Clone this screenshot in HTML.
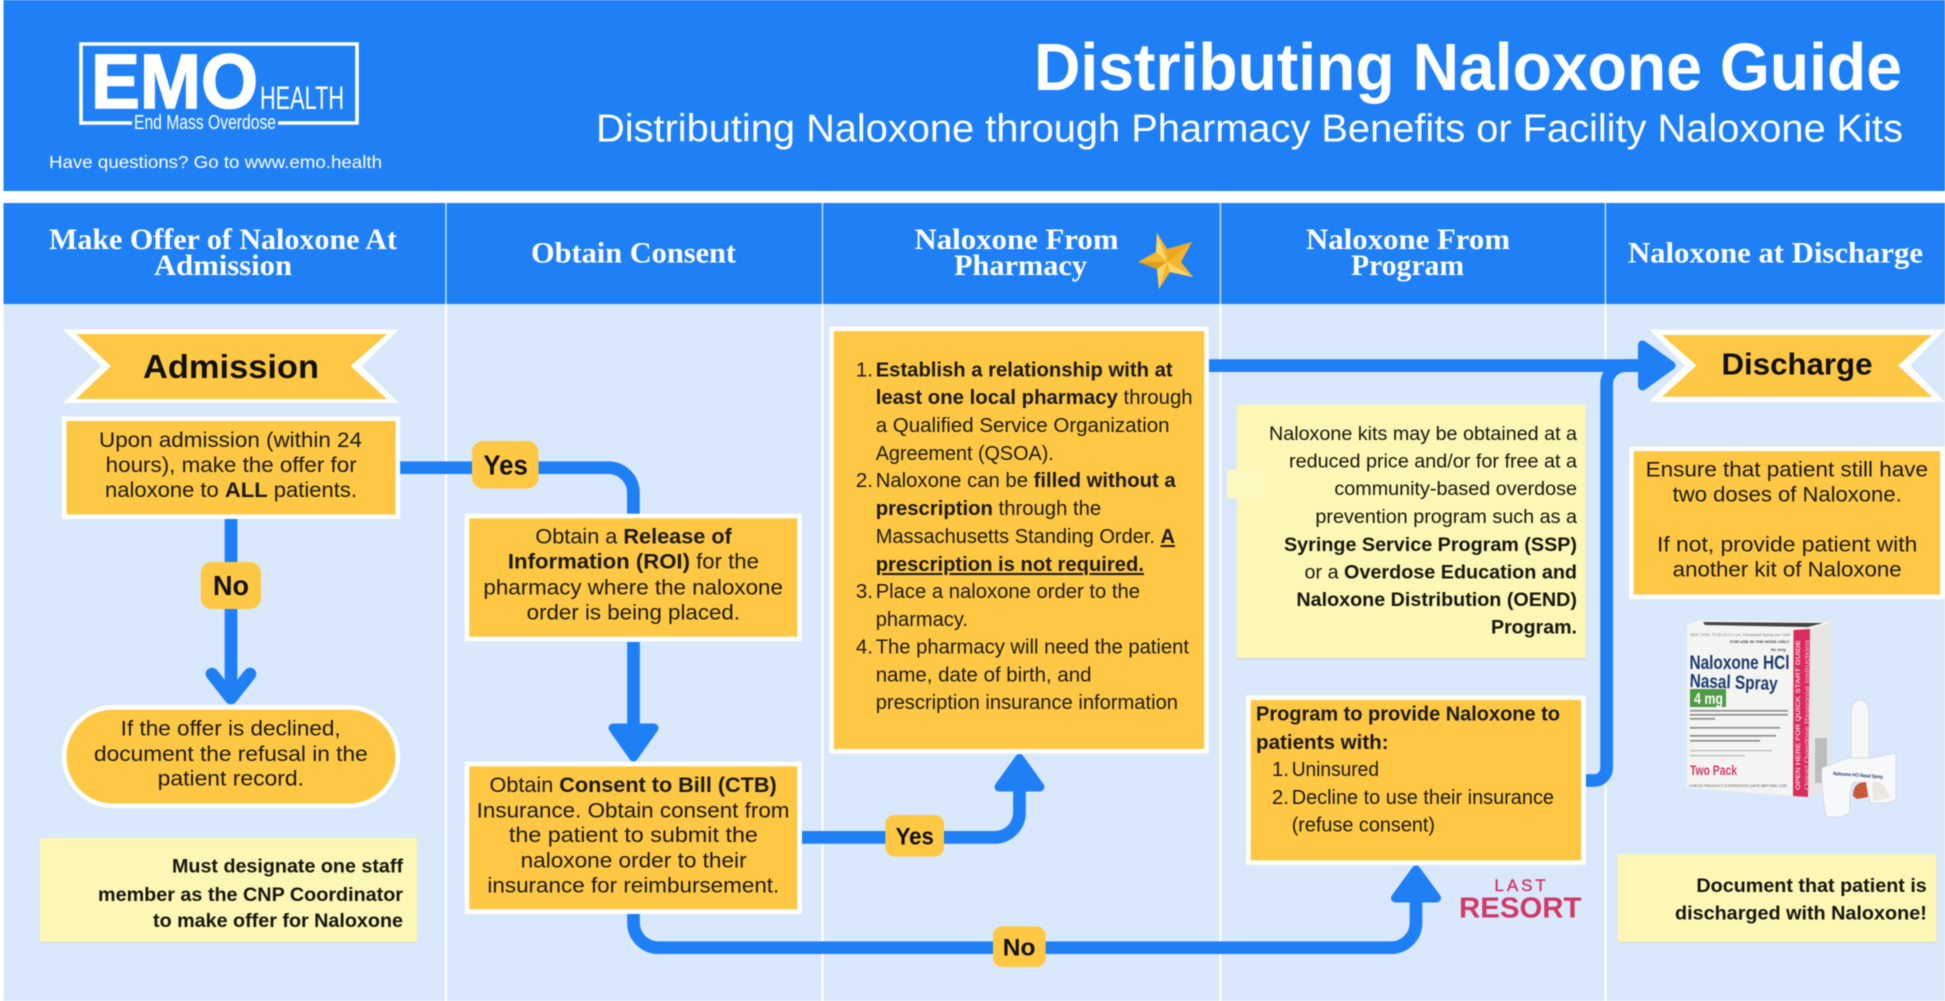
<!DOCTYPE html>
<html><head><meta charset="utf-8"><title>Distributing Naloxone Guide</title>
<style>
html,body{margin:0;padding:0;background:#fff;width:1945px;height:1001px;overflow:hidden}
svg{display:block;filter:blur(0.4px)}
text{font-family:"Liberation Sans",sans-serif}
.w{fill:#fff}
.s{font-family:"Liberation Serif",serif;font-weight:700;font-size:29.5px;fill:#fff}
.b{font-size:21px;fill:#1c1a14}
.p{font-size:20.5px;fill:#1c1a14}
.n{font-size:19px;fill:#16160f}
.lab{font-weight:700;fill:#111}
</style></head><body>
<svg width="1945" height="1001" viewBox="0 0 1945 1001" xmlns="http://www.w3.org/2000/svg">
<rect width="1945" height="1001" fill="#fff"/>
<rect x="3.5" y="0" width="1941.5" height="191" fill="#1f80f6"/>
<rect x="3.5" y="203" width="1941.5" height="101" fill="#1f80f6"/>
<rect x="3.5" y="304" width="1941.5" height="697" fill="#dae8fb"/>
<g fill="#fff"><rect x="445" y="304" width="2" height="697"/><rect x="821.5" y="304" width="2" height="697"/><rect x="1219.5" y="304" width="2" height="697"/><rect x="1604.5" y="304" width="2" height="697"/></g>
<g fill="#dbe9fc"><rect x="445.3" y="203" width="1.3" height="101"/><rect x="821.8" y="203" width="1.3" height="101"/><rect x="1219.8" y="203" width="1.3" height="101"/><rect x="1604.8" y="203" width="1.3" height="101"/></g>

<!-- logo -->
<path d="M132 123H81V44H357V123H278" fill="none" stroke="#fff" stroke-width="3.6"/>
<text x="91" y="108" class="w" font-weight="700" font-size="77" stroke="#fff" stroke-width="1.6" textLength="167" lengthAdjust="spacingAndGlyphs">EMO</text>
<text x="260" y="109" class="w" font-size="32" textLength="84" lengthAdjust="spacingAndGlyphs">HEALTH</text>
<text x="134" y="129" class="w" font-size="20" textLength="142" lengthAdjust="spacingAndGlyphs">End Mass Overdose</text>
<text x="49" y="168" class="w" font-size="17.5" textLength="333" lengthAdjust="spacingAndGlyphs">Have questions? Go to www.emo.health</text>

<!-- title -->
<text x="1034" y="90" class="w" font-weight="700" font-size="67" textLength="868" lengthAdjust="spacingAndGlyphs">Distributing Naloxone Guide</text>
<text x="596" y="141.5" class="w" font-size="39" textLength="1307" lengthAdjust="spacingAndGlyphs">Distributing Naloxone through Pharmacy Benefits or Facility Naloxone Kits</text>

<!-- column headers -->
<text x="49" y="249" class="s" textLength="348" lengthAdjust="spacingAndGlyphs">Make Offer of Naloxone At</text>
<text x="154" y="275" class="s" textLength="138" lengthAdjust="spacingAndGlyphs">Admission</text>
<text x="531" y="262.5" class="s" textLength="205" lengthAdjust="spacingAndGlyphs">Obtain Consent</text>
<text x="914.5" y="249" class="s" textLength="204" lengthAdjust="spacingAndGlyphs">Naloxone From</text>
<text x="954" y="275" class="s" textLength="133" lengthAdjust="spacingAndGlyphs">Pharmacy</text>
<text x="1306" y="249" class="s" textLength="204" lengthAdjust="spacingAndGlyphs">Naloxone From</text>
<text x="1351" y="275" class="s" textLength="113" lengthAdjust="spacingAndGlyphs">Program</text>
<text x="1628" y="262.5" class="s" textLength="295" lengthAdjust="spacingAndGlyphs">Naloxone at Discharge</text>

<!-- star -->
<polygon points="1157,233 1167,249 1192,242 1181,262 1193,277 1170,272 1159,289 1157,269 1138,262 1156,252" fill="#f6b52e"/>
<polygon points="1157,233 1167,262 1156,252" fill="#fcd869"/>
<polygon points="1167,249 1192,242 1167,262" fill="#eda923"/>
<polygon points="1138,262 1167,262 1157,269" fill="#e09a1c"/>
<polygon points="1167,262 1193,277 1170,272" fill="#fcd76f"/>
<polygon points="1167,262 1159,289 1157,269" fill="#fcd263"/>

<!-- connectors -->
<g fill="none" stroke="#1f80f6" stroke-width="12.7">
<path d="M400 467.7H608.4A25 25 0 0 1 633.4 492.7V515"/>
<path d="M231 519V695"/>
<path d="M633.5 642V735"/>
<path d="M802 837.4H994A25 25 0 0 0 1019.5 812V785"/>
<path d="M633.5 914V922.7A25 25 0 0 0 658.5 947.7H1391A25 25 0 0 0 1416 922.7V895"/>
<path d="M1209 365.6H1650"/>
<path d="M1586 780.5H1594A12.6 12.6 0 0 0 1606.6 768V385A19 19 0 0 1 1626 365.6H1650"/>
<path d="M212 674L231 698L250 674" stroke-linecap="round" stroke-linejoin="round"/>
</g>
<g fill="#1f80f6" stroke="#1f80f6" stroke-width="9" stroke-linejoin="round">
<polygon points="613,728 654,728 633.5,757"/>
<polygon points="999,787 1040,787 1019.5,758.5"/>
<polygon points="1395.5,898 1436.5,898 1416,870"/>
<polygon points="1642.5,345 1642.5,386 1671,365.5"/>
</g>

<!-- banners -->
<polygon points="63,329.5 399,329.5 361.5,366 399,403 63,403 101.5,366" fill="#fff"/>
<polygon points="76,334 387,334 350.5,366 387,399 76,399 111,366" fill="#fec844"/>
<text x="143" y="378" class="lab" font-size="33" textLength="176" lengthAdjust="spacingAndGlyphs">Admission</text>
<polygon points="1649,329.5 1945,329.5 1910,365.5 1945,401.7 1649,401.7 1685,365.5" fill="#fff"/>
<polygon points="1662,335 1932,335 1898,365.5 1932,396.7 1662,396.7 1696.5,365.5" fill="#fec844"/>
<text x="1721.5" y="374.5" class="lab" font-size="31" textLength="151" lengthAdjust="spacingAndGlyphs">Discharge</text>

<!-- admission box -->
<rect x="64.2" y="418.7" width="333.6" height="98" fill="#fec844" stroke="#fff" stroke-width="4.6"/>
<text x="99" y="447" class="b" textLength="263" lengthAdjust="spacingAndGlyphs">Upon admission (within 24</text>
<text x="105.7" y="472" class="b" textLength="251" lengthAdjust="spacingAndGlyphs">hours), make the offer for</text>
<text x="105" y="497" class="b" textLength="252" lengthAdjust="spacingAndGlyphs">naloxone to <tspan font-weight="700">ALL</tspan> patients.</text>

<!-- pill -->
<rect x="64.2" y="707.3" width="333.6" height="98.5" rx="49" fill="#fec844" stroke="#fff" stroke-width="4.6"/>
<text x="120.7" y="735.7" class="b" textLength="220" lengthAdjust="spacingAndGlyphs">If the offer is declined,</text>
<text x="94" y="761" class="b" textLength="273.7" lengthAdjust="spacingAndGlyphs">document the refusal in the</text>
<text x="157.7" y="785.7" class="b" textLength="146.3" lengthAdjust="spacingAndGlyphs">patient record.</text>

<!-- note 1 -->
<rect x="40" y="839" width="377" height="104" fill="#cdd8e6"/>
<rect x="40" y="838" width="377" height="104" fill="#fdf7b5"/>
<g class="n" font-weight="700">
<text x="172" y="872.5" textLength="231" lengthAdjust="spacingAndGlyphs">Must designate one staff</text>
<text x="98" y="901" textLength="305" lengthAdjust="spacingAndGlyphs">member as the CNP Coordinator</text>
<text x="153" y="927" textLength="250" lengthAdjust="spacingAndGlyphs">to make offer for Naloxone</text>
</g>

<!-- ROI -->
<rect x="467" y="516" width="332.5" height="123" fill="#fec844" stroke="#fff" stroke-width="4.6"/>
<text x="535.4" y="543.7" class="b" textLength="196.4" lengthAdjust="spacingAndGlyphs">Obtain a <tspan font-weight="700">Release of</tspan></text>
<text x="507.9" y="568.5" class="b" textLength="251" lengthAdjust="spacingAndGlyphs"><tspan font-weight="700">Information (ROI)</tspan> for the</text>
<text x="483.4" y="594.5" class="b" textLength="299.5" lengthAdjust="spacingAndGlyphs">pharmacy where the naloxone</text>
<text x="526.7" y="619.7" class="b" textLength="213.3" lengthAdjust="spacingAndGlyphs">order is being placed.</text>

<!-- CTB -->
<rect x="467" y="764" width="332.5" height="147.5" fill="#fec844" stroke="#fff" stroke-width="4.6"/>
<text x="489.5" y="792.2" class="b" textLength="287.2" lengthAdjust="spacingAndGlyphs">Obtain <tspan font-weight="700">Consent to Bill (CTB)</tspan></text>
<text x="476.7" y="817.4" class="b" textLength="312.8" lengthAdjust="spacingAndGlyphs">Insurance. Obtain consent from</text>
<text x="508.9" y="842" class="b" textLength="249" lengthAdjust="spacingAndGlyphs">the patient to submit the</text>
<text x="520.6" y="867.4" class="b" textLength="226" lengthAdjust="spacingAndGlyphs">naloxone order to their</text>
<text x="487.4" y="892.5" class="b" textLength="291.9" lengthAdjust="spacingAndGlyphs">insurance for reimbursement.</text>

<!-- pharmacy box -->
<rect x="831.5" y="328.8" width="375" height="422.5" fill="#fec844" stroke="#fff" stroke-width="4.6"/>
<g class="p">
<text x="873" y="376.5" text-anchor="end">1.</text>
<text x="873" y="487" text-anchor="end">2.</text>
<text x="873" y="598" text-anchor="end">3.</text>
<text x="873" y="653.6" text-anchor="end">4.</text>
<text x="875.7" y="376.5" font-weight="700" textLength="296.9" lengthAdjust="spacingAndGlyphs">Establish a relationship with at</text>
<text x="875.7" y="403.8" textLength="316.9" lengthAdjust="spacingAndGlyphs"><tspan font-weight="700">least one local pharmacy</tspan> through</text>
<text x="875.7" y="432" textLength="293.9" lengthAdjust="spacingAndGlyphs">a Qualified Service Organization</text>
<text x="875.7" y="460" textLength="178.1" lengthAdjust="spacingAndGlyphs">Agreement (QSOA).</text>
<text x="875.7" y="487" textLength="300" lengthAdjust="spacingAndGlyphs">Naloxone can be <tspan font-weight="700">filled without a</tspan></text>
<text x="875.7" y="515" textLength="225.5" lengthAdjust="spacingAndGlyphs"><tspan font-weight="700">prescription</tspan> through the</text>
<text x="875.7" y="543" textLength="299.3" lengthAdjust="spacingAndGlyphs">Massachusetts Standing Order. <tspan font-weight="700" text-decoration="underline">A</tspan></text>
<text x="875.7" y="571" font-weight="700" text-decoration="underline" textLength="268.3" lengthAdjust="spacingAndGlyphs">prescription is not required.</text>
<text x="875.7" y="598" textLength="264.3" lengthAdjust="spacingAndGlyphs">Place a naloxone order to the</text>
<text x="875.7" y="626" textLength="92.3" lengthAdjust="spacingAndGlyphs">pharmacy.</text>
<text x="875.7" y="653.6" textLength="313.3" lengthAdjust="spacingAndGlyphs">The pharmacy will need the patient</text>
<text x="875.7" y="681.4" textLength="215.8" lengthAdjust="spacingAndGlyphs">name, date of birth, and</text>
<text x="875.7" y="708.8" textLength="302.3" lengthAdjust="spacingAndGlyphs">prescription insurance information</text>
</g>

<!-- note 2 -->
<rect x="1237" y="405.7" width="348.7" height="254" fill="#cdd8e6"/>
<rect x="1237" y="404.7" width="348.7" height="253.3" fill="#fdf7b5"/>
<rect x="1227" y="470" width="36" height="28" fill="#fdf8c0"/>
<g class="n" fill="#1a1a14">
<text x="1269" y="440" textLength="308" lengthAdjust="spacingAndGlyphs">Naloxone kits may be obtained at a</text>
<text x="1289" y="467.7" textLength="288" lengthAdjust="spacingAndGlyphs">reduced price and/or for free at a</text>
<text x="1334.4" y="495" textLength="242.6" lengthAdjust="spacingAndGlyphs">community-based overdose</text>
<text x="1315.4" y="523" textLength="261.6" lengthAdjust="spacingAndGlyphs">prevention program such as a</text>
<text x="1284" y="551" font-weight="700" textLength="293" lengthAdjust="spacingAndGlyphs">Syringe Service Program (SSP)</text>
<text x="1304.5" y="578.5" textLength="272.5" lengthAdjust="spacingAndGlyphs">or a <tspan font-weight="700">Overdose Education and</tspan></text>
<text x="1296.4" y="605.8" font-weight="700" textLength="280.6" lengthAdjust="spacingAndGlyphs">Naloxone Distribution (OEND)</text>
<text x="1491" y="633.6" font-weight="700" textLength="86" lengthAdjust="spacingAndGlyphs">Program.</text>
</g>

<!-- program box -->
<rect x="1248.4" y="697.7" width="335" height="165" fill="#fec844" stroke="#fff" stroke-width="4.6"/>
<g class="p">
<text x="1256" y="720.5" font-weight="700" textLength="304" lengthAdjust="spacingAndGlyphs">Program to provide Naloxone to</text>
<text x="1256" y="748.8" font-weight="700" textLength="132.6" lengthAdjust="spacingAndGlyphs">patients with:</text>
<text x="1289" y="776" text-anchor="end">1.</text>
<text x="1289" y="804" text-anchor="end">2.</text>
<text x="1291.7" y="776" textLength="87.3" lengthAdjust="spacingAndGlyphs">Uninsured</text>
<text x="1291.7" y="804" textLength="262.3" lengthAdjust="spacingAndGlyphs">Decline to use their insurance</text>
<text x="1291.7" y="831.7" textLength="143.3" lengthAdjust="spacingAndGlyphs">(refuse consent)</text>
</g>

<!-- last resort -->
<text x="1494.5" y="891" font-size="17" fill="#cf3a68" stroke="#cf3a68" stroke-width="0.4" textLength="51.3" lengthAdjust="spacing">LAST</text>
<text x="1459" y="917.7" font-size="29" font-weight="700" fill="#cf3a68" textLength="122.5" lengthAdjust="spacingAndGlyphs">RESORT</text>

<!-- ensure box -->
<rect x="1631.4" y="448.8" width="311" height="148" fill="#fec844" stroke="#fff" stroke-width="4.6"/>
<text x="1645.6" y="476.4" class="b" textLength="282.4" lengthAdjust="spacingAndGlyphs">Ensure that patient still have</text>
<text x="1672.7" y="501.6" class="b" textLength="229" lengthAdjust="spacingAndGlyphs">two doses of Naloxone.</text>
<text x="1657" y="551.5" class="b" textLength="260.3" lengthAdjust="spacingAndGlyphs">If not, provide patient with</text>
<text x="1672.7" y="576.3" class="b" textLength="229" lengthAdjust="spacingAndGlyphs">another kit of Naloxone</text>

<!-- product -->
<g>
<polygon points="1687,625 1700,620 1832,622 1830,786 1808,797 1687,788" fill="#f4f4f2"/>
<polygon points="1703,622 1823,623 1808,627 1705,625" fill="#444"/>
<polygon points="1810,629 1832,622 1830,786 1808,797" fill="#e6e6e4"/>
<polygon points="1793.5,630 1810,629 1808,797 1793,796" fill="#d92c5c"/>
<g font-size="4" fill="#777"><text x="1690" y="636" textLength="100" lengthAdjust="spacingAndGlyphs">NDC 0781-7176-10  0.1 mL Intranasal Spray per Unit</text><text x="1730" y="643" font-weight="700" fill="#444" textLength="60" lengthAdjust="spacingAndGlyphs">FOR USE IN THE NOSE ONLY.</text><text x="1771" y="651" font-weight="700" fill="#444">Rx Only</text></g>
<text x="1689.5" y="669" font-size="19" font-weight="700" fill="#1d3a6e" textLength="100" lengthAdjust="spacingAndGlyphs">Naloxone HCl</text>
<text x="1689.5" y="687" font-size="19" font-weight="700" fill="#1d3a6e" textLength="88" lengthAdjust="spacingAndGlyphs" transform="rotate(2 1690 687)">Nasal Spray</text>
<rect x="1690" y="689" width="36" height="18" fill="#4f9a44"/>
<text x="1694" y="704" font-size="16" font-weight="700" fill="#fff" textLength="29" lengthAdjust="spacingAndGlyphs">4 mg</text>
<g fill="#8a8a88"><rect x="1690" y="710" width="98" height="1.6"/><rect x="1690" y="714" width="98" height="1.6"/><rect x="1690" y="718" width="25" height="1.6"/><rect x="1690" y="727" width="90" height="1.6"/><rect x="1690" y="735" width="86" height="1.6"/><rect x="1690" y="740" width="70" height="1.6"/><rect x="1690" y="750" width="82" height="1.2" fill="#b5b5b3"/><rect x="1690" y="755" width="55" height="1.2" fill="#b5b5b3"/></g>
<text x="1690" y="775" font-size="14" font-weight="700" fill="#cf3a68" textLength="47" lengthAdjust="spacingAndGlyphs">Two Pack</text>
<text x="1689" y="787" font-size="4" fill="#555" textLength="99" lengthAdjust="spacingAndGlyphs">CHECK PRODUCT EXPIRATION DATE BEFORE USE.</text>
<g transform="rotate(-90 1802 790)"><text x="1802" y="788" font-size="6.2" font-weight="700" fill="#f8c9d4" textLength="150" lengthAdjust="spacingAndGlyphs">OPEN HERE FOR QUICK START GUIDE</text><text x="1802" y="797" font-size="6.2" fill="#f8c9d4" textLength="150" lengthAdjust="spacingAndGlyphs">Opioid Overdose Response Instructions</text></g>
<rect x="1815" y="738" width="12" height="45" fill="#bdbdbd"/>
<path d="M1851 762V714Q1851 700 1860 700Q1869 700 1869 714V762Z" fill="#f5f6f8" stroke="#d6dbe3" stroke-width="1"/>
<path d="M1822 768L1848 758H1870L1896 753V800L1888 803H1870Q1868 782 1860 782H1854Q1849 784 1850 812Q1840 820 1826 816Q1821 790 1822 768Z" fill="#f7f8fa" stroke="#d6dbe3" stroke-width="1"/>
<path d="M1853 796Q1853 782 1866 782L1868 797L1857 799Z" fill="#c9573a"/>
<path d="M1872 782Q1886 780 1889 798L1873 801Z" fill="#ece8df"/>
<text x="1833" y="775" font-size="5" font-weight="700" fill="#1d3a6e" textLength="50" lengthAdjust="spacingAndGlyphs" transform="rotate(4 1833 775)">Naloxone HCl Nasal Spray</text>
</g>

<!-- note 3 -->
<rect x="1617.6" y="855" width="318.4" height="88" fill="#cdd8e6"/>
<rect x="1617.6" y="854.3" width="318.4" height="87.7" fill="#fdf7b5"/>
<g class="n" font-weight="700">
<text x="1696.4" y="892" textLength="230.4" lengthAdjust="spacingAndGlyphs">Document that patient is</text>
<text x="1675" y="919.5" textLength="251.8" lengthAdjust="spacingAndGlyphs">discharged with Naloxone!</text>
</g>

<!-- labels -->
<g fill="#fec844">
<rect x="472" y="441" width="66.5" height="47.5" rx="11"/>
<rect x="200.7" y="562" width="60.3" height="47" rx="11"/>
<rect x="885.4" y="815" width="58.6" height="41.5" rx="9"/>
<rect x="993" y="926.4" width="52.6" height="40.6" rx="9"/>
</g>
<text x="483.4" y="474.6" class="lab" font-size="28" textLength="44.4" lengthAdjust="spacingAndGlyphs">Yes</text>
<text x="213" y="595" class="lab" font-size="28" textLength="36" lengthAdjust="spacingAndGlyphs">No</text>
<text x="895.6" y="844.3" class="lab" font-size="24" textLength="38.3" lengthAdjust="spacingAndGlyphs">Yes</text>
<text x="1002.8" y="955.5" class="lab" font-size="24" textLength="32.6" lengthAdjust="spacingAndGlyphs">No</text>
</svg>
</body></html>
